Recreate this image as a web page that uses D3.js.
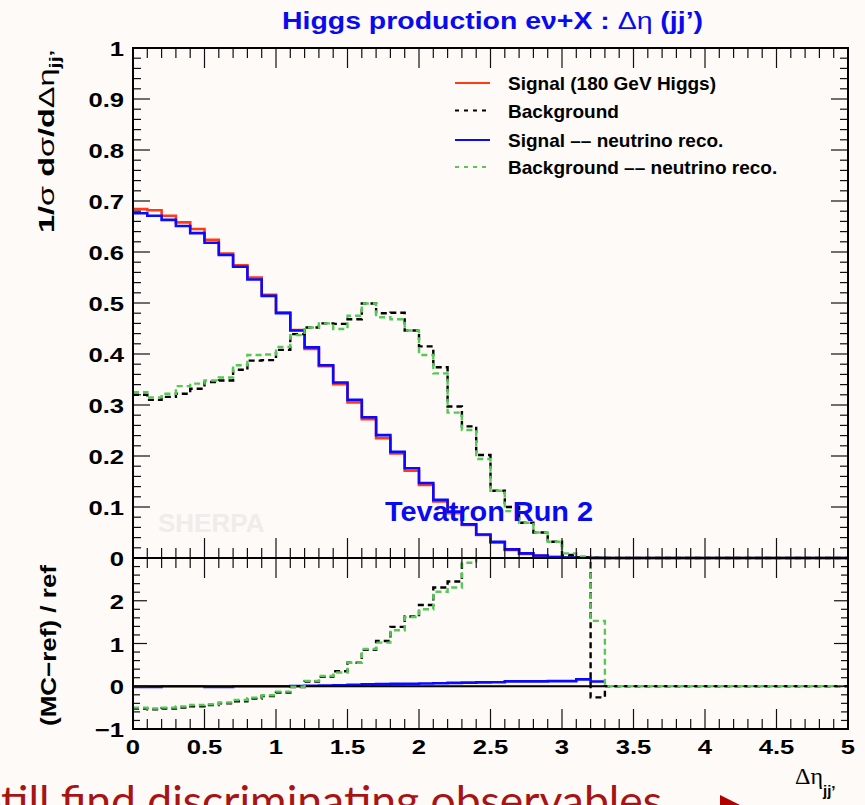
<!DOCTYPE html>
<html>
<head>
<meta charset="utf-8">
<script src="https://cdn.jsdelivr.net/npm/d3@7"></script>
<style>
  html, body { margin: 0; padding: 0; background: #fdfaf7; }
  svg { display: block; }
</style>
</head>
<body>
<svg id="chart" width="865" height="805"></svg>
<script>
// ---- Data: normalised Δη(jj') distributions, 50 bins of width 0.1 on [0, 5] ----
const binWidth = 0.1;
const nBins = 50;

const signal = [
  0.684, 0.682, 0.671, 0.658, 0.645, 0.624, 0.597, 0.574, 0.550, 0.516,
  0.482, 0.447, 0.410, 0.376, 0.341, 0.305, 0.272, 0.235, 0.205, 0.171,
  0.143, 0.111, 0.088, 0.065, 0.045, 0.030, 0.016, 0.008, 0.004, 0.002,
  0.001, 0.0005, 0.0003, 0, 0, 0, 0, 0, 0, 0,
  0, 0, 0, 0, 0, 0, 0, 0, 0, 0
];
const background = [
  0.320, 0.310, 0.316, 0.322, 0.332, 0.345, 0.348, 0.369, 0.387, 0.388,
  0.408, 0.439, 0.452, 0.460, 0.459, 0.468, 0.499, 0.480, 0.481, 0.446,
  0.415, 0.374, 0.297, 0.258, 0.202, 0.132, 0.100, 0.069, 0.050, 0.032,
  0.006, 0.001, 0.0002, 0, 0, 0, 0, 0, 0, 0,
  0, 0, 0, 0, 0, 0, 0, 0, 0, 0
];
const signalReco = [
  0.676, 0.671, 0.663, 0.651, 0.637, 0.618, 0.594, 0.571, 0.546, 0.514,
  0.480, 0.446, 0.413, 0.378, 0.344, 0.310, 0.276, 0.241, 0.208, 0.176,
  0.147, 0.114, 0.091, 0.066, 0.046, 0.032, 0.017, 0.009, 0.005, 0.002,
  0.001, 0.0006, 0.0003, 0, 0, 0, 0, 0, 0, 0,
  0, 0, 0, 0, 0, 0, 0, 0, 0, 0
];
const backgroundReco = [
  0.325, 0.315, 0.322, 0.337, 0.342, 0.348, 0.354, 0.378, 0.398, 0.399,
  0.414, 0.437, 0.452, 0.460, 0.449, 0.475, 0.499, 0.472, 0.468, 0.446,
  0.398, 0.362, 0.285, 0.251, 0.194, 0.132, 0.092, 0.069, 0.050, 0.032,
  0.009, 0.003, 0.0008, 0, 0, 0, 0, 0, 0, 0,
  0, 0, 0, 0, 0, 0, 0, 0, 0, 0
];

// (MC - ref) / ref, with the signal as reference; null where the reference is empty
const ratioSignal = [
  0, 0, 0, 0, 0, 0, 0, 0, 0, 0,
  0, 0, 0, 0, 0, 0, 0, 0, 0, 0,
  0, 0, 0, 0, 0, 0, 0, 0, 0, 0,
  0, 0, 0, null, null, null, null, null, null, null,
  null, null, null, null, null, null, null, null, null, null
];
const ratioBackground = [
  -0.52, -0.54, -0.52, -0.50, -0.47, -0.44, -0.40, -0.35, -0.29, -0.23,
  -0.15, -0.02, 0.11, 0.22, 0.35, 0.55, 0.85, 1.06, 1.39, 1.63,
  1.90, 2.31, 2.45, 3.2, 3.4, 3.4, 5.2, 7.6, 11.0, 15.0,
  5.0, 3.5, -0.26, 0, 0, 0, 0, 0, 0, 0,
  0, 0, 0, 0, 0, 0, 0, 0, 0, 0
];
const ratioSignalReco = [
  -0.015, -0.015, 0.0, 0.0, 0.0, -0.015, -0.015, 0.0, 0.0, 0.0,
  0.0, 0.005, 0.01, 0.015, 0.025, 0.035, 0.045, 0.05, 0.055, 0.06,
  0.065, 0.07, 0.08, 0.085, 0.09, 0.095, 0.115, 0.115, 0.115, 0.12,
  0.12, 0.16, 0.11, null, null, null, null, null, null, null,
  null, null, null, null, null, null, null, null, null, null
];
const ratioBackgroundReco = [
  -0.50, -0.52, -0.50, -0.475, -0.44, -0.42, -0.38, -0.32, -0.265, -0.21,
  -0.125, -0.01, 0.125, 0.24, 0.32, 0.55, 0.87, 1.02, 1.31, 1.62,
  1.80, 2.21, 2.31, 2.89, 3.3, 3.4, 4.7, 7.6, 11.0, 15.0,
  8.0, 5.0, 1.53, 0, 0, 0, 0, 0, 0, 0,
  0, 0, 0, 0, 0, 0, 0, 0, 0, 0
];

const xTickValues = [0, 0.5, 1, 1.5, 2, 2.5, 3, 3.5, 4, 4.5, 5];
const xTickLabels = ["0", "0.5", "1", "1.5", "2", "2.5", "3", "3.5", "4", "4.5", "5"];
const yTickValues = [0, 0.1, 0.2, 0.3, 0.4, 0.5, 0.6, 0.7, 0.8, 0.9, 1];
const yTickLabels = ["0", "0.1", "0.2", "0.3", "0.4", "0.5", "0.6", "0.7", "0.8", "0.9", "1"];
const ratioTickValues = [-1, 0, 1, 2];
const ratioTickLabels = ["\u22121", "0", "1", "2"];

const legendLabels = [
  "Signal (180 GeV Higgs)",
  "Background",
  "Signal \u2013\u2013 neutrino reco.",
  "Background \u2013\u2013 neutrino reco."
];

// ---- Styles ----
const C = {
  bg: "#fdfaf7",
  red: "#ff3a14",
  blue: "#0a0aff",
  black: "#000000",
  green: "#55c855",
  title: "#0a0aee",
  slide: "#a81414"
};
const FONT = "'Liberation Sans', Arial, Helvetica, sans-serif";
const SERIF = "'Liberation Serif', 'Times New Roman', serif";

const svg = d3.select("#chart");
svg.append("rect").attr("width", 865).attr("height", 805).attr("fill", C.bg);

// ---- Frame geometry and scales ----
const L = 133, R = 848, T = 48, MID = 558, B = 729;
const x = d3.scaleLinear().domain([0, 5]).range([L, R]);
const yMain = d3.scaleLinear().domain([0, 1]).range([MID, T]);
const yRatio = d3.scaleLinear().domain([-1, 3]).range([B, MID]);

const defs = svg.append("defs");
defs.append("clipPath").attr("id", "clipMain")
  .append("rect").attr("x", L).attr("y", T - 2).attr("width", R - L).attr("height", MID - T + 4);
defs.append("clipPath").attr("id", "clipRatio")
  .append("rect").attr("x", L).attr("y", MID - 1).attr("width", R - L).attr("height", B - MID + 3);

// histogram outline: one flat segment per bin, joined by verticals
function histPath(values, yScale) {
  const pts = [];
  values.forEach((v, i) => {
    pts.push([i * binWidth, v]);
    pts.push([(i + 1) * binWidth, v]);
  });
  return d3.line()
    .defined(d => d[1] !== null)
    .x(d => x(d[0]))
    .y(d => yScale(d[1]))(pts);
}

function drawHist(g, values, yScale, color, dashed, width) {
  g.append("path")
    .attr("d", histPath(values, yScale))
    .attr("fill", "none")
    .attr("stroke", color)
    .attr("stroke-width", width)
    .attr("stroke-dasharray", dashed ? "6,4" : null)
    .attr("stroke-linejoin", "miter");
}

// ---- SHERPA watermark ----
svg.append("text")
  .attr("x", 158).attr("y", 532)
  .attr("font-family", FONT).attr("font-weight", "bold").attr("font-size", 26)
  .attr("fill", "#efedeb")
  .text("SHERPA");

// ---- Main panel ----
const gMain = svg.append("g").attr("clip-path", "url(#clipMain)");
drawHist(gMain, signal, yMain, C.red, false, 2.6);
drawHist(gMain, signalReco, yMain, C.blue, false, 2.6);
drawHist(gMain, background, yMain, C.black, true, 2.4);
drawHist(gMain, backgroundReco, yMain, C.green, true, 2.4);

// ---- Ratio panel ----
const gRatio = svg.append("g").attr("clip-path", "url(#clipRatio)");
drawHist(gRatio, ratioSignal, yRatio, C.red, false, 2.6);
drawHist(gRatio, ratioSignalReco, yRatio, C.blue, false, 2.6);
gRatio.append("line")
  .attr("x1", L).attr("x2", R).attr("y1", yRatio(0)).attr("y2", yRatio(0))
  .attr("stroke", "#000").attr("stroke-width", 1.4);
drawHist(gRatio, ratioBackground, yRatio, C.black, true, 2.4);
drawHist(gRatio, ratioBackgroundReco, yRatio, C.green, true, 2.4);

// ---- Ticks ----
const tickG = svg.append("g").attr("stroke", "#111").attr("stroke-width", 1.2);
function hTicks(yEdge, dir) {
  d3.range(0, 51).forEach(i => {
    const xv = x(i * binWidth);
    const len = (i % 5 === 0) ? 20 : 10;
    tickG.append("line").attr("x1", xv).attr("x2", xv)
      .attr("y1", yEdge).attr("y2", yEdge + dir * len);
  });
}
hTicks(T, 1);
hTicks(MID, -1);
hTicks(MID, 1);
hTicks(B, -1);

// main y ticks: minor every 0.02, major every 0.1
d3.range(0, 51).forEach(i => {
  const yv = yMain(i * 0.02);
  const len = (i % 5 === 0) ? 17 : 8;
  tickG.append("line").attr("x1", L).attr("x2", L + len).attr("y1", yv).attr("y2", yv);
  tickG.append("line").attr("x1", R).attr("x2", R - len).attr("y1", yv).attr("y2", yv);
});
// ratio y ticks: minor every 0.2, major every 1
d3.range(0, 21).forEach(i => {
  const yv = yRatio(-1 + i * 0.2);
  const len = (i % 5 === 0) ? 14 : 7;
  tickG.append("line").attr("x1", L).attr("x2", L + len).attr("y1", yv).attr("y2", yv);
  tickG.append("line").attr("x1", R).attr("x2", R - len).attr("y1", yv).attr("y2", yv);
});

// ---- Frames ----
const frameG = svg.append("g").attr("fill", "none").attr("stroke", "#000").attr("stroke-width", 2);
frameG.append("rect").attr("x", L).attr("y", T).attr("width", R - L).attr("height", MID - T);
frameG.append("rect").attr("x", L).attr("y", MID).attr("width", R - L).attr("height", B - MID);

// ---- Tick labels ----
const labelSX = 1.22;
function label(xp, yp, txt, anchor) {
  svg.append("text")
    .attr("transform", `translate(${xp},${yp}) scale(${labelSX},1)`)
    .attr("text-anchor", anchor)
    .attr("font-family", FONT).attr("font-weight", "bold").attr("font-size", 21)
    .attr("fill", "#000")
    .text(txt);
}
yTickValues.forEach((v, i) => label(124, yMain(v) + 8, yTickLabels[i], "end"));
ratioTickValues.forEach((v, i) => label(124, yRatio(v) + 8, ratioTickLabels[i], "end"));
xTickValues.forEach((v, i) => label(x(v), 754, xTickLabels[i], "middle"));

// ---- Axis titles ----
const yTitle = svg.append("text")
  .attr("transform", "translate(54,50) rotate(-90)")
  .attr("text-anchor", "end")
  .attr("font-family", FONT).attr("font-weight", "bold").attr("font-size", 22)
  .attr("textLength", 183).attr("lengthAdjust", "spacingAndGlyphs");
yTitle.append("tspan").text("1/");
yTitle.append("tspan").attr("font-weight", "normal").text("\u03c3");
yTitle.append("tspan").text(" d");
yTitle.append("tspan").attr("font-weight", "normal").text("\u03c3");
yTitle.append("tspan").text("/d");
yTitle.append("tspan").attr("font-weight", "normal").text("\u0394\u03b7");
yTitle.append("tspan").attr("font-size", 15).attr("dy", 6).text("jj\u2019");

svg.append("text")
  .attr("transform", "translate(56,565) rotate(-90)")
  .attr("text-anchor", "end")
  .attr("font-family", FONT).attr("font-weight", "bold").attr("font-size", 22)
  .attr("textLength", 161).attr("lengthAdjust", "spacingAndGlyphs")
  .text("(MC\u2212ref) / ref");

const xTitle = svg.append("text")
  .attr("x", 795).attr("y", 784)
  .attr("font-family", SERIF).attr("font-size", 24).attr("fill", "#000");
xTitle.append("tspan").text("\u0394\u03b7");
xTitle.append("tspan").attr("font-family", FONT).attr("font-weight", "bold")
  .attr("font-size", 15).attr("dy", 12).text("jj\u2019");

// ---- Title ----
const title = svg.append("text")
  .attr("x", 282).attr("y", 29)
  .attr("font-family", FONT).attr("font-weight", "bold").attr("font-size", 24)
  .attr("fill", C.title)
  .attr("textLength", 421).attr("lengthAdjust", "spacingAndGlyphs");
title.append("tspan").text("Higgs production e\u03bd+X : ");
title.append("tspan").attr("font-weight", "normal").text("\u0394\u03b7");
title.append("tspan").text(" (jj\u2019)");

// ---- Tevatron label ----
svg.append("text")
  .attr("x", 385).attr("y", 521)
  .attr("font-family", FONT).attr("font-weight", "bold").attr("font-size", 28)
  .attr("fill", C.title)
  .attr("textLength", 208).attr("lengthAdjust", "spacingAndGlyphs")
  .text("Tevatron Run 2");

// ---- Legend ----
const legendRows = [
  { y: 83, color: C.red, dashed: false },
  { y: 110.5, color: C.black, dashed: true },
  { y: 140, color: C.blue, dashed: false },
  { y: 167, color: C.green, dashed: true }
];
legendRows.forEach((r, i) => {
  svg.append("line")
    .attr("x1", 455).attr("x2", 490).attr("y1", r.y).attr("y2", r.y)
    .attr("stroke", r.color).attr("stroke-width", 2)
    .attr("stroke-dasharray", r.dashed ? "4,5" : null);
  svg.append("text")
    .attr("x", 508).attr("y", r.y + 7)
    .attr("font-family", FONT).attr("font-weight", "bold").attr("font-size", 19)
    .attr("fill", "#000")
    .text(legendLabels[i]);
});

// ---- Slide text below the figure (runs off the bottom-left edge) ----
svg.append("text")
  .attr("x", -22).attr("y", 816)
  .attr("font-family", "Lato, 'Open Sans', sans-serif").attr("font-size", 42)
  .attr("fill", C.slide)
  .attr("textLength", 684).attr("lengthAdjust", "spacingAndGlyphs")
  .text("Still find discriminating observables");
svg.append("path")
  .attr("d", "M720,795 L756,813 L720,831 Z")
  .attr("fill", "#b00000");
</script>
</body>
</html>
